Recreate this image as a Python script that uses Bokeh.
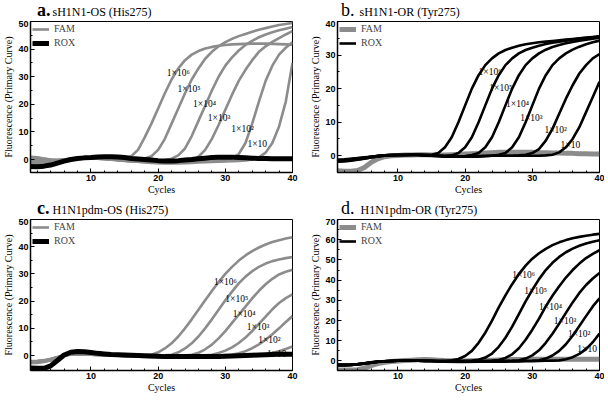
from bokeh.plotting import figure
from bokeh.layouts import column, row
from bokeh.models import Range1d, SingleIntervalTicker, Legend, LegendItem, Div
from bokeh.core.properties import value
from bokeh.embed import file_html
from bokeh.resources import INLINE

# ---------------- data ----------------
cycles = list(range(1, 41))
dilution_labels = ["1×10⁶", "1×10⁵", "1×10⁴", "1×10³", "1×10²", "1×10"]

# Panel a: sH1N1-OS (His275) -- FAM rises, ROX flat
a_fam_e6 = [0.8, 0.6, 0.3, 0.0, -0.1, 0.1, 0.3, 0.5, 0.5, 0.5, 0.4, 0.3, 0.2, 0.2, 0.5,
            1.2, 3.5, 8.0, 13.0, 18.5, 24.0, 29.0, 33.0, 36.0, 38.0, 39.3, 40.2, 40.8, 41.2, 41.5,
            41.7, 41.8, 41.9, 42.0, 42.0, 42.0, 41.9, 41.8, 41.7, 41.6]
a_fam_e5 = [0.2, 0.0, -0.3, -0.5, -0.4, -0.1, 0.2, 0.4, 0.5, 0.5, 0.4, 0.3, 0.2, 0.1, 0.0, -0.1, 0.0, 0.4,
            1.2, 3.5, 7.5, 13.0, 18.5, 24.0, 29.0, 33.0, 36.5, 39.0, 41.0, 42.5, 43.7, 44.7, 45.5, 46.3,
            47.0, 47.6, 48.2, 48.7, 49.1, 49.5]
a_fam_e4 = [-0.5, -0.8, -1.0, -1.0, -0.8, -0.4, 0.0, 0.3, 0.4, 0.4, 0.3, 0.2, 0.0, -0.2, -0.4, -0.5, -0.6,
            -0.6, -0.5, -0.4, -0.2, 0.3,
            1.5, 4.0, 8.5, 14.0, 19.5, 25.0, 30.0, 34.0, 37.0, 39.5, 41.5, 43.0, 44.3, 45.3, 46.1, 46.8, 47.4, 48.0]
a_fam_e3 = [-1.2, -1.5, -1.5, -1.3, -1.0, -0.5, 0.0, 0.3, 0.4, 0.4, 0.3, 0.1, -0.1, -0.3, -0.5, -0.7, -0.8,
            -0.9, -1.0, -1.0, -1.0, -0.9, -0.8, -0.6, -0.2,
            1.0, 3.5, 7.5, 12.5, 18.0, 23.5, 28.5, 32.5, 36.0, 39.0, 41.0, 42.6, 44.0, 45.3, 46.5]
a_fam_e2 = [1.0, 0.8, 0.4, 0.0, -0.2, 0.0, 0.2, 0.4, 0.5, 0.5, 0.4, 0.2, 0.0, -0.2, -0.4, -0.6, -0.8, -1.0,
            -1.1, -1.2, -1.2, -1.2, -1.1, -1.0, -0.9, -0.8, -0.7, -0.6, -0.4, -0.2,
            0.5, 2.0, 6.0, 13.0, 21.0, 28.5, 34.0, 38.0, 40.5, 42.5]
a_fam_e1 = [-0.3, -0.5, -0.7, -0.7, -0.5, -0.2, 0.1, 0.3, 0.4, 0.4, 0.3, 0.2, 0.0, -0.2, -0.4, -0.6, -0.8,
            -1.0, -1.2, -1.3, -1.4, -1.4, -1.4, -1.3, -1.2, -1.1, -1.0, -0.9, -0.8, -0.7, -0.6, -0.5, -0.3, 0.0,
            0.8, 2.5, 6.0, 12.0, 21.0, 35.0]
a_rox = [-2.5, -2.6, -2.4, -2.0, -1.3, -0.6, 0.0, 0.4, 0.6, 0.7, 0.9, 1.0, 1.0, 0.9, 0.7, 0.4, 0.2, 0.0,
         -0.2, -0.4, -0.5, -0.5, -0.4, -0.2, 0.0, 0.3, 0.5, 0.7, 0.8, 0.8, 0.8, 0.7, 0.6, 0.5, 0.4, 0.4,
         0.3, 0.3, 0.3, 0.3]
a_label_x = [21.3, 22.9, 25.2, 27.4, 30.9, 33.3]
a_label_y = [31.4, 25.5, 20.1, 15.2, 11.0, 5.5]

# Panel b: sH1N1-OR (Tyr275) -- ROX rises, FAM flat
b_rox_e6 = [-1.2, -1.1, -0.9, -0.7, -0.5, -0.3, -0.1, 0.1, 0.2, 0.2, 0.2, 0.3, 0.3, 0.3, 0.3,
            0.8, 2.5, 5.5, 10.0, 15.0, 20.0, 24.0, 27.0, 29.0, 30.5, 31.5, 32.2, 32.8, 33.2, 33.5,
            33.8, 34.0, 34.2, 34.4, 34.6, 34.8, 35.0, 35.2, 35.4, 35.6]
b_rox_e5 = [-1.5, -1.4, -1.2, -1.0, -0.7, -0.4, -0.1, 0.1, 0.2, 0.2, 0.2, 0.3, 0.3, 0.2, 0.1, 0.0, 0.0, 0.1,
            0.8, 2.5, 5.5, 10.0, 15.0, 20.0, 24.0, 27.0, 29.0, 30.5, 31.5, 32.2, 32.8, 33.3, 33.7, 34.0,
            34.3, 34.6, 34.9, 35.1, 35.3, 35.5]
b_rox_e4 = [-1.8, -1.7, -1.5, -1.2, -0.9, -0.5, -0.2, 0.0, 0.1, 0.2, 0.2, 0.2, 0.2, 0.1, 0.0, -0.1, -0.2,
            -0.2, -0.2, -0.1, 0.2,
            0.8, 2.5, 5.5, 10.0, 15.0, 20.0, 24.0, 27.0, 29.0, 30.5, 31.6, 32.4, 33.0, 33.5, 33.9, 34.3,
            34.6, 34.9, 35.2]
b_rox_e3 = [-1.3, -1.2, -1.0, -0.8, -0.6, -0.3, 0.0, 0.1, 0.2, 0.2, 0.2, 0.2, 0.2, 0.1, 0.0, -0.1, -0.2,
            -0.3, -0.3, -0.3, -0.2, -0.2, -0.1, 0.0, 0.3,
            0.8, 2.5, 5.5, 10.0, 15.0, 20.0, 24.0, 27.0, 29.0, 30.5, 31.6, 32.5, 33.2, 33.8, 34.3]
b_rox_e2 = [-1.6, -1.5, -1.3, -1.1, -0.8, -0.5, -0.2, 0.0, 0.1, 0.2, 0.2, 0.2, 0.2, 0.1, 0.0, -0.1, -0.2,
            -0.3, -0.3, -0.3, -0.3, -0.2, -0.1, 0.0, 0.0, 0.0, 0.0, 0.1, 0.3,
            0.8, 2.0, 4.5, 8.0, 12.5, 17.0, 21.0, 24.5, 27.0, 29.0, 30.3]
b_rox_e1 = [-1.4, -1.3, -1.1, -0.9, -0.6, -0.3, -0.1, 0.1, 0.2, 0.2, 0.2, 0.3, 0.3, 0.2, 0.1, 0.0, -0.1,
            -0.2, -0.2, -0.2, -0.2, -0.1, -0.1, 0.0, 0.0, 0.0, 0.0, 0.0, 0.0, 0.0, 0.0, 0.1,
            0.3, 1.0, 2.5, 5.0, 8.5, 13.0, 17.5, 22.0]
b_fam = [-4.5, -4.6, -4.6, -4.4, -3.5, -2.0, -0.9, -0.3, 0.0, 0.1, 0.2, 0.2, 0.3, 0.3, 0.2, 0.2, 0.2,
         0.3, 0.4, 0.5, 0.6, 0.7, 0.8, 0.9, 1.0, 1.0, 1.0, 1.0, 1.0, 1.0, 0.9, 0.9, 0.8, 0.8, 0.7, 0.7,
         0.6, 0.6, 0.5, 0.5]
b_label_x = [22.0, 23.6, 26.1, 28.2, 31.8, 34.2]
b_label_y = [24.9, 20.1, 15.5, 11.3, 7.7, 3.3]

# Panel c: H1N1pdm-OS (His275) -- FAM rises, ROX flat
c_fam_e6 = [-2.3, -2.2, -1.9, -1.4, -0.6, 0.1, 0.4, 0.5, 0.5, 0.4, 0.3, 0.3, 0.2, 0.2, 0.1, 0.1, 0.1, 0.1,
            0.3, 1.2, 2.6, 4.5, 7.0, 10.0, 13.3, 16.8, 20.3, 23.7, 27.0, 30.0, 32.6, 34.9, 36.8, 38.4,
            39.7, 40.8, 41.7, 42.4, 43.0, 43.5]
c_fam_e5 = [-2.6, -2.5, -2.2, -1.7, -0.8, 0.0, 0.4, 0.5, 0.4, 0.3, 0.3, 0.2, 0.2, 0.1, 0.0, 0.0, -0.1,
            -0.1, -0.1, 0.0, 0.1,
            0.3, 1.2, 2.6, 4.5, 7.0, 10.0, 13.3, 16.8, 20.3, 23.5, 26.5, 29.0, 31.0, 32.6, 33.8, 34.7,
            35.3, 35.8, 36.2]
c_fam_e4 = [-2.0, -1.9, -1.7, -1.2, -0.5, 0.1, 0.4, 0.4, 0.4, 0.3, 0.2, 0.2, 0.1, 0.0, 0.0, -0.1, -0.2,
            -0.2, -0.3, -0.3, -0.2, -0.2, -0.1, 0.0,
            0.3, 1.0, 2.3, 4.0, 6.3, 9.0, 12.0, 15.0, 18.0, 21.0, 23.8, 26.2, 28.2, 29.8, 30.8, 31.5]
c_fam_e3 = [-2.8, -2.7, -2.4, -1.8, -0.9, 0.0, 0.3, 0.4, 0.3, 0.3, 0.2, 0.1, 0.0, 0.0, -0.1, -0.2, -0.3,
            -0.3, -0.4, -0.4, -0.4, -0.3, -0.3, -0.2, -0.1, 0.0, 0.1,
            0.3, 0.9, 1.8, 3.0, 4.6, 6.6, 9.0, 11.6, 14.3, 17.0, 19.3, 21.1, 22.5]
c_fam_e2 = [-2.4, -2.3, -2.0, -1.5, -0.7, 0.0, 0.3, 0.4, 0.4, 0.3, 0.2, 0.1, 0.0, -0.1, -0.2, -0.3, -0.4,
            -0.4, -0.5, -0.5, -0.5, -0.5, -0.4, -0.4, -0.3, -0.2, -0.1, 0.0, 0.1, 0.2,
            0.3, 0.8, 1.6, 2.7, 4.1, 5.8, 7.8, 10.0, 12.3, 14.5]
c_fam_e1 = [-2.2, -2.1, -1.8, -1.3, -0.6, 0.1, 0.4, 0.4, 0.3, 0.3, 0.2, 0.1, 0.0, -0.1, -0.2, -0.3, -0.4,
            -0.5, -0.5, -0.6, -0.6, -0.6, -0.5, -0.5, -0.4, -0.3, -0.2, -0.1, 0.0, 0.0, 0.0, 0.1, 0.1, 0.1,
            0.2, 0.5, 1.0, 1.6, 2.4, 3.3]
c_rox = [-4.6, -4.7, -4.7, -3.8, -1.8, 0.2, 1.2, 1.5, 1.4, 1.1, 0.8, 0.6, 0.4, 0.3, 0.2, 0.1, 0.0, -0.1,
         -0.2, -0.3, -0.4, -0.4, -0.4, -0.4, -0.4, -0.4, -0.4, -0.4, -0.4, -0.3, -0.2, -0.1, 0.0, 0.1,
         0.2, 0.3, 0.4, 0.5, 0.5, 0.5]
c_label_x = [28.3, 30.0, 31.1, 33.2, 34.9, 36.2]
c_label_y = [26.9, 20.9, 15.2, 10.4, 5.7, 0.4]

# Panel d: H1N1pdm-OR (Tyr275) -- ROX rises, FAM flat
d_rox_e6 = [-2.0, -2.0, -1.9, -1.6, -1.2, -0.8, -0.4, -0.1, 0.0, 0.1, 0.1, 0.2, 0.2, 0.2, 0.1, 0.1, 0.1,
            0.3, 1.0, 2.5, 5.0, 9.0, 14.0, 20.0, 26.5, 32.5, 38.0, 43.0, 47.2, 50.6, 53.3, 55.5, 57.3,
            58.7, 59.8, 60.7, 61.4, 62.0, 62.5, 62.9]
d_rox_e5 = [-2.2, -2.2, -2.0, -1.7, -1.3, -0.9, -0.5, -0.2, 0.0, 0.1, 0.1, 0.1, 0.1, 0.1, 0.0, 0.0, 0.0,
            0.0, 0.0, 0.1, 0.2,
            0.6, 1.7, 3.7, 7.0, 11.5, 17.0, 23.2, 29.5, 35.2, 40.5, 45.0, 48.6, 51.5, 53.8, 55.6, 57.0,
            58.1, 59.0, 59.7]
d_rox_e4 = [-1.8, -1.8, -1.7, -1.5, -1.1, -0.7, -0.3, -0.1, 0.0, 0.1, 0.1, 0.1, 0.1, 0.0, 0.0, -0.1, -0.1,
            -0.1, -0.1, 0.0, 0.0, 0.0, 0.1, 0.2,
            0.5, 1.5, 3.3, 6.3, 10.5, 15.5, 21.0, 27.0, 32.3, 37.0, 41.3, 45.0, 48.2, 50.9, 53.0, 54.8]
d_rox_e3 = [-2.1, -2.1, -2.0, -1.7, -1.3, -0.8, -0.4, -0.1, 0.0, 0.1, 0.1, 0.1, 0.1, 0.0, 0.0, -0.1, -0.2,
            -0.2, -0.2, -0.2, -0.2, -0.1, -0.1, 0.0, 0.0, 0.1, 0.2,
            0.4, 1.2, 2.8, 5.3, 9.0, 13.5, 18.5, 23.8, 29.0, 33.7, 37.6, 40.8, 43.5]
d_rox_e2 = [-1.9, -1.9, -1.8, -1.5, -1.1, -0.7, -0.3, -0.1, 0.0, 0.1, 0.1, 0.1, 0.1, 0.0, 0.0, -0.1, -0.2,
            -0.3, -0.3, -0.3, -0.3, -0.3, -0.3, -0.2, -0.2, -0.1, -0.1, 0.0, 0.1, 0.2,
            0.4, 1.2, 2.7, 5.0, 8.3, 12.5, 17.3, 22.2, 27.0, 31.0]
d_rox_e1 = [-2.0, -2.0, -1.9, -1.6, -1.2, -0.8, -0.4, -0.1, 0.0, 0.1, 0.1, 0.1, 0.1, 0.0, 0.0, -0.1, -0.2,
            -0.3, -0.3, -0.4, -0.4, -0.4, -0.4, -0.4, -0.3, -0.3, -0.2, -0.2, -0.1, -0.1, 0.0, 0.1, 0.2,
            0.3, 0.9, 1.9, 3.5, 5.9, 9.3, 13.6]
d_fam = [-4.4, -4.5, -4.5, -4.3, -3.5, -2.3, -1.3, -0.6, -0.2, 0.0, 0.2, 0.4, 0.6, 0.7, 0.6, 0.4, 0.2,
         0.1, 0.0, 0.0, 0.1, 0.2, 0.3, 0.4, 0.5, 0.6, 0.7, 0.8, 0.8, 0.9, 0.9, 0.9, 0.9, 0.9, 0.9, 0.9,
         0.9, 0.9, 0.9, 0.9]
d_label_x = [27.0, 28.8, 31.0, 33.2, 35.3, 36.7]
d_label_y = [42.4, 34.6, 26.5, 19.7, 13.3, 5.8]

GRAY = "#8c8c8c"
BLACK = "#000000"
SERIF = "Liberation Serif"
LEFT_BORDER = 26
FRAME_W = 262
FRAME_H = 151
TITLE_H = 20


def make_panel(y_min, y_max, fam_lines, rox_lines, fam_rises, lab_x, lab_y,
               b_right, b_bottom):
    p = figure(frame_width=FRAME_W, frame_height=FRAME_H,
               x_range=Range1d(1, 40), y_range=Range1d(y_min, y_max),
               output_backend="svg", toolbar_location=None,
               min_border_left=LEFT_BORDER, min_border_right=b_right,
               min_border_top=1, min_border_bottom=b_bottom,
               background_fill_color="white", border_fill_color="white")
    p.xgrid.visible = False
    p.ygrid.visible = False
    p.outline_line_color = "black"
    p.outline_line_width = 1
    p.outline_line_alpha = 1

    p.xaxis.ticker = SingleIntervalTicker(interval=10, num_minor_ticks=5)
    p.yaxis.ticker = SingleIntervalTicker(interval=10, num_minor_ticks=2)
    for ax in (p.xaxis, p.yaxis):
        ax.major_tick_in = 4
        ax.major_tick_out = 0
        ax.minor_tick_in = 2
        ax.minor_tick_out = 0
        ax.axis_line_width = 1.5
        ax.major_label_text_font = "Liberation Sans"
        ax.major_label_text_font_style = "bold"
        ax.major_label_text_font_size = "9px"
        ax.major_label_text_color = "black"
        ax.axis_label_text_font = SERIF
        ax.axis_label_text_font_style = "normal"
        ax.axis_label_text_font_size = "10px"
        ax.axis_label_text_color = "black"
    p.xaxis.major_label_standoff = 2
    p.yaxis.major_label_standoff = 2
    p.xaxis.axis_label_standoff = 0
    p.yaxis.axis_label_standoff = 1
    p.xaxis.axis_label = "Cycles"
    p.yaxis.axis_label = "Fluorescence (Primary Curve)"

    fam_w = 2.6 if fam_rises else 5
    rox_w = 5 if fam_rises else 2.6
    r_fam = p.multi_line(xs=[cycles] * len(fam_lines), ys=fam_lines,
                         line_color=GRAY, line_width=fam_w, line_join="round")
    r_rox = p.multi_line(xs=[cycles] * len(rox_lines), ys=rox_lines,
                         line_color=BLACK, line_width=rox_w, line_join="round")

    p.text(x=lab_x, y=lab_y, text=dilution_labels,
           text_font=value(SERIF), text_font_size="9.5px",
           text_baseline="middle", text_align="left", text_color="black")

    legend = Legend(items=[LegendItem(label="FAM", renderers=[r_fam]),
                           LegendItem(label="ROX", renderers=[r_rox])],
                    location="top_left", border_line_color=None,
                    background_fill_alpha=0, label_text_font=SERIF,
                    label_text_font_size="10px", glyph_width=17, glyph_height=10,
                    label_height=10, label_standoff=5, spacing=3, padding=3, margin=2)
    p.add_layout(legend)
    return p


def make_title(letter, bold, letter_dx, title, gap):
    weight = "bold" if bold else "normal"
    html = ('<span style="font-family:\'Liberation Serif\';font-size:18px;font-weight:%s;">%s</span>'
            '<span style="font-family:\'Liberation Serif\';font-size:12px;margin-left:%dpx;">%s</span>'
            % (weight, letter, gap, title))
    return Div(text=html, width=250, height=TITLE_H, margin=(0, 0, 0, 0),
               styles={"padding-left": "%dpx" % (LEFT_BORDER + letter_dx),
                       "line-height": "%dpx" % TITLE_H, "white-space": "nowrap",
                       "color": "black", "overflow": "visible"})


pa = make_panel(-4.7, 50, [a_fam_e6, a_fam_e5, a_fam_e4, a_fam_e3, a_fam_e2, a_fam_e1], [a_rox],
                True, a_label_x, a_label_y, 15, 26)
pb = make_panel(-5, 40, [b_fam], [b_rox_e6, b_rox_e5, b_rox_e4, b_rox_e3, b_rox_e2, b_rox_e1],
                False, b_label_x, b_label_y, 5, 26)
pc = make_panel(-5.5, 50, [c_fam_e6, c_fam_e5, c_fam_e4, c_fam_e3, c_fam_e2, c_fam_e1], [c_rox],
                True, c_label_x, c_label_y, 15, 22)
pd_ = make_panel(-4.7, 70, [d_fam], [d_rox_e6, d_rox_e5, d_rox_e4, d_rox_e3, d_rox_e2, d_rox_e1],
                 False, d_label_x, d_label_y, 5, 22)

ta = make_title("a.", True, 11, "sH1N1-OS (His275)", 2)
tb = make_title("b.", False, 8, "sH1N1-OR (Tyr275)", 5)
tc = make_title("c.", True, 11, "H1N1pdm-OS (His275)", 3)
td = make_title("d.", False, 8, "H1N1pdm-OR (Tyr275)", 6)

layout = column(
    row(column(ta, pa, spacing=0), column(tb, pb, spacing=0), spacing=0),
    row(column(tc, pc, spacing=0), column(td, pd_, spacing=0), spacing=0),
    spacing=0)

open("out.html", "w").write(file_html(layout, INLINE))
